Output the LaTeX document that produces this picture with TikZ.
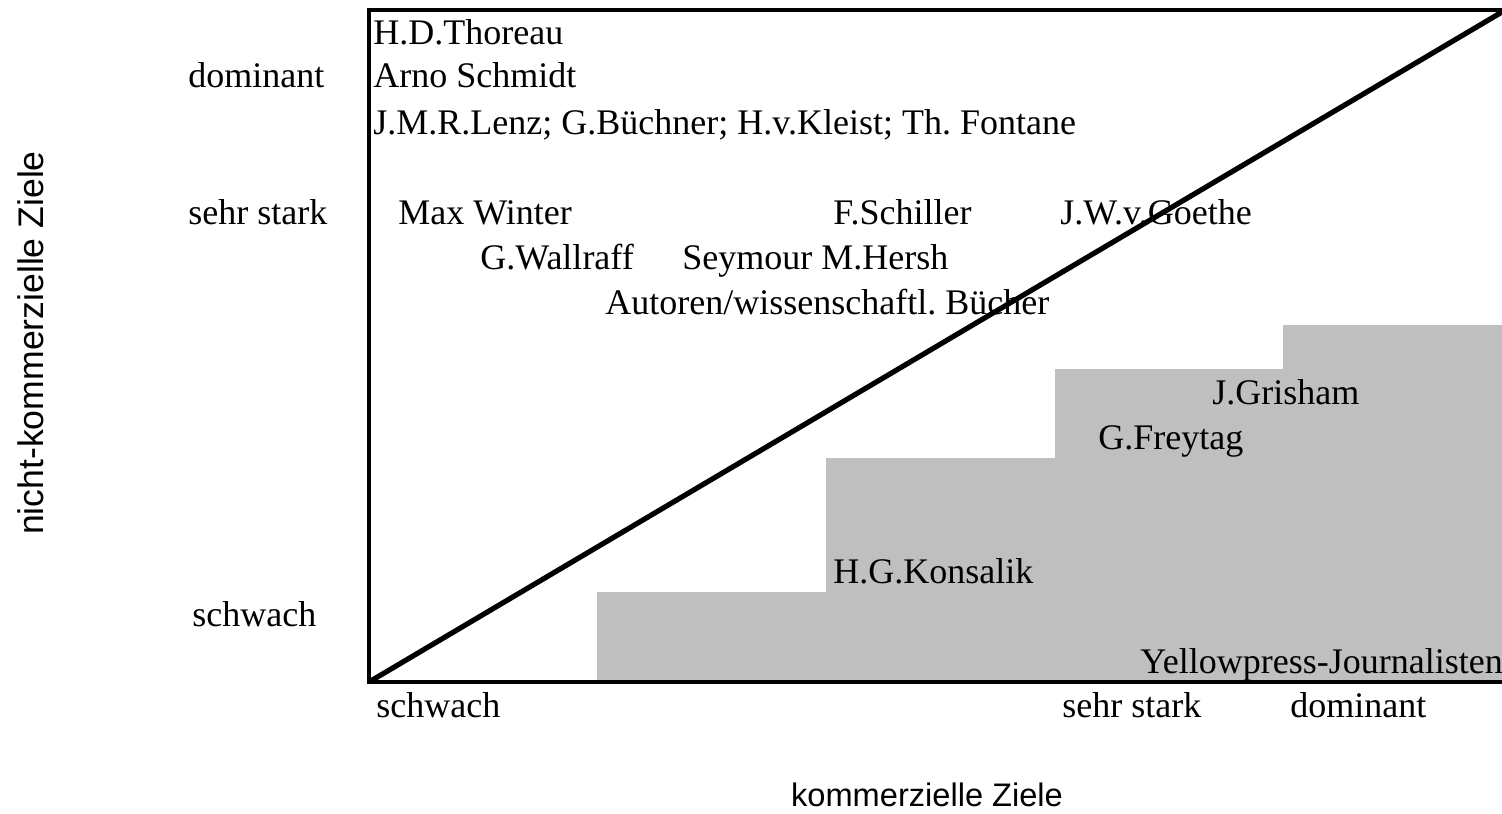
\documentclass[tikz,border=0pt]{standalone}
\usepackage{fontspec}
\setmainfont{Liberation Serif}
\setsansfont{Liberation Sans}
\frenchspacing
\begin{document}
\begin{tikzpicture}[x=0.5pt,y=-0.5pt,
  lbl/.style={anchor=base west,inner sep=0pt,font=\fontsize{18pt}{21pt}\selectfont},
  axis/.style={inner sep=0pt,font=\sffamily\fontsize{16.3pt}{19pt}\selectfont},
  frame/.style={line width=2.2pt},
  diag/.style={line width=2.6pt},
  area/.style={fill=black!25,draw=none}]
\useasboundingbox (0,0) rectangle (1502,813);
\coordinate (tl) at (369,10);
\coordinate (bl) at (369,682);
\coordinate (br) at (1502,682);
\coordinate (tr) at (1502,10);
\coordinate (dend) at (1502,12);
\fill[area] (597,682) -- (597,592) -- (826,592) -- (826,458) -- (1055,458) -- (1055,369)
  -- (1283,369) -- (1283,325) -- (1502,325) -- (1502,682) -- cycle;
\draw[frame] (tr) -- (tl) -- (bl) -- (br);
\draw[diag] (bl) -- (dend);
% inner labels
\node[lbl] (thoreau) at (373,45) {H.D.Thoreau};
\node[lbl] (schmidt) at (373,88) {Arno Schmidt};
\node[lbl] (lenz) at (373,134) {J.M.R.Lenz; G.Büchner; H.v.Kleist; Th. Fontane};
\node[lbl] (winter) at (398,224) {Max Winter};
\node[lbl] (schiller) at (833,224) {F.Schiller};
\node[lbl] (goethe) at (1060,224) {J.W.v.Goethe};
\node[lbl] (wallraff) at (480,269) {G.Wallraff};
\node[lbl] (hersh) at (682,269) {Seymour M.Hersh};
\node[lbl] (autoren) at (605,314) {Autoren/wissenschaftl. Bücher};
\node[lbl] (grisham) at (1212,404) {J.Grisham};
\node[lbl] (freytag) at (1098,449) {G.Freytag};
\node[lbl] (konsalik) at (833,583) {H.G.Konsalik};
\node[lbl] (yellow) at (1140,673) {Yellowpress-Journalisten};
% axis scale labels
\node[lbl] (ydom) at (188,88) {dominant};
\node[lbl] (ysehr) at (188,224) {sehr stark};
\node[lbl] (yschw) at (192,626) {schwach};
\node[lbl] (xschw) at (376,717) {schwach};
\node[lbl] (xsehr) at (1062,717) {sehr stark};
\node[lbl] (xdom) at (1290,717) {dominant};
% axis titles
\node[axis,anchor=base] (xtitle) at (927,806) {kommerzielle Ziele};
\node[axis,anchor=base,rotate=90,font=\sffamily\fontsize{17.8pt}{20pt}\selectfont] (ytitle) at (43,343) {nicht-kommerzielle Ziele};
\end{tikzpicture}
\end{document}
